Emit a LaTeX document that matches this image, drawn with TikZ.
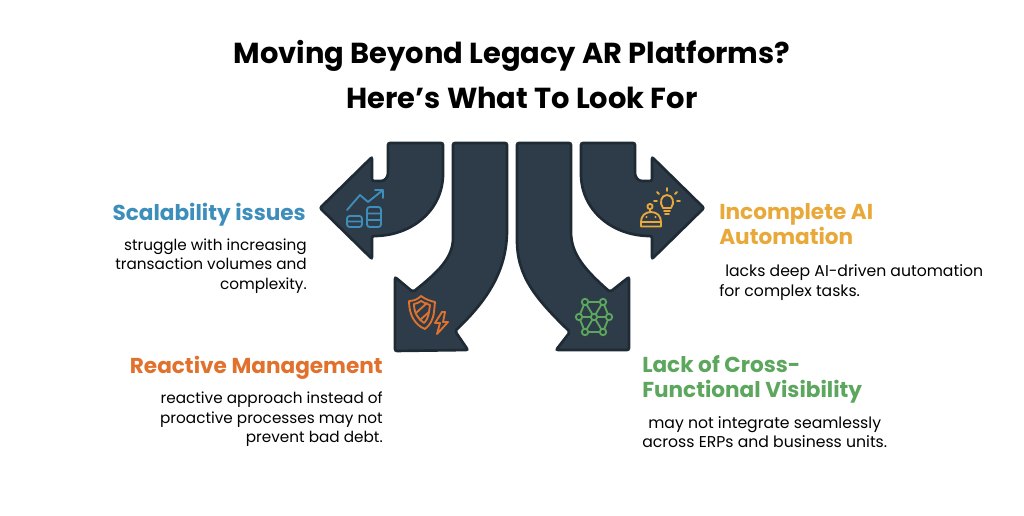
\documentclass[tikz,border=0pt]{standalone}
\usepackage{fontspec}
\setmainfont{Poppins}
\usetikzlibrary{positioning}
\definecolor{slateFill}{HTML}{2D3C48}
\definecolor{slateEdge}{HTML}{1E2B35}
\definecolor{scaleBlue}{HTML}{3E8EBB}
\definecolor{reactOrange}{HTML}{E0722D}
\definecolor{aiYellow}{HTML}{E8A93A}
\definecolor{crossGreen}{HTML}{5CA75D}
\begin{document}
\begin{tikzpicture}[x=0.75pt,y=-0.75pt,
		bigarrow/.style={draw=slateEdge,fill=slateFill,line width=2pt,rounded corners=1.5pt},
		titletext/.style={font=\fontsize{21.7pt}{33.7pt}\selectfont\bfseries,align=center,text=black},
		headleft/.style={anchor=north east,align=right,inner sep=0pt,font=\fontsize{16.2pt}{18.8pt}\selectfont\bfseries},
		headright/.style={anchor=north west,align=left,inner sep=0pt,font=\fontsize{16.2pt}{18.8pt}\selectfont\bfseries},
		bodyleft/.style={anchor=north east,align=right,inner sep=0pt,font=\fontsize{11.45pt}{14.7pt}\selectfont},
		bodyright/.style={anchor=north west,align=left,inner sep=0pt,font=\fontsize{11.75pt}{14.7pt}\selectfont},
		icon/.style={line width=1.4pt,line cap=round,line join=round}]
	\useasboundingbox (0,0) rectangle (1024,516);
	% arrows
	\draw[bigarrow] (388,143) -- (443,143) -- (443,172) .. controls (443,210) and (412,236) .. (372,236) -- (372,259) -- (320,208) -- (372,157) -- (372,181) -- (379,181) .. controls (385,181) and (388,177) .. (388,171) -- cycle;
	\draw[bigarrow] (453,143) -- (507,143) -- (507,228) .. controls (507,268) and (490,298) .. (455,331) -- (468,350) -- (395,351) -- (395,277) -- (413,292) .. controls (438,272) and (453,258) .. (453,236) -- cycle;
	\draw[bigarrow] (517,143) -- (571,143) -- (571,230) .. controls (571,254) and (585,270) .. (610,292) -- (629,277) -- (629,350) -- (556,350) -- (570,332) .. controls (535,298) and (517,276) .. (517,238) -- cycle;
	\draw[bigarrow] (581,143) -- (635,143) -- (635,171) .. controls (635,177) and (638,181) .. (644,181) -- (652,181) -- (652,157) -- (704,208) -- (652,259) -- (652,236) .. controls (612,236) and (581,210) .. (581,172) -- cycle;
	% scalability icon
	\begin{scope}[icon,draw=scaleBlue]
		\draw (347,210) -- (360,195) -- (368,202) -- (383,190) (375,190) -- (383,190) -- (383,198);
		\draw[rounded corners=2pt] (347,216) rectangle (362,227) (347,221.5) -- (362,221.5);
		\draw[rounded corners=2pt] (367,207) rectangle (381,227) (367,213.5) -- (381,213.5) (367,220) -- (381,220);
	\end{scope}
	% reactive icon
	\begin{scope}[icon,draw=reactOrange]
		\draw (409,301) .. controls (414,301) and (418,299) .. (421,296) .. controls (425,299) and (430,301) .. (435,302) -- (434,312) .. controls (433,320) and (430,325) .. (425,329) .. controls (415,325) and (409,315) .. (409,301) -- cycle;
		\draw (414,304) .. controls (417,304) and (419,302) .. (421,301) .. controls (424,303) and (427,304) .. (430,305) -- (429,312) .. controls (428,317) and (427,320) .. (424,323) .. controls (418,319) and (414,313) .. (414,304) -- cycle;
		\draw (416,313) -- (427,303) (420,320) -- (429,312);
		\draw (442,312) -- (435,323) -- (440,323) -- (437,334) -- (448,322) -- (443,322) -- (445,312) -- cycle;
	\end{scope}
	% cross-functional icon
	\begin{scope}[icon,draw=crossGreen]
		\foreach \a/\b in {{585,302}/{603,302},{585,302}/{579,317},{585,302}/{594,317},{603,302}/{594,317},{603,302}/{609,317},{579,317}/{594,317},{594,317}/{609,317},{579,317}/{585,332},{594,317}/{585,332},{594,317}/{603,332},{609,317}/{603,332},{585,332}/{603,332}}
			\draw (\a) -- (\b);
		\foreach \p in {{585,302},{603,302},{579,317},{594,317},{609,317},{585,332},{603,332}}
			\draw[fill=slateFill] (\p) circle (3.2);
	\end{scope}
	% ai icon
	\begin{scope}[icon,draw=aiYellow]
		\draw (641,226.5) -- (641,222) .. controls (641,216) and (645,212) .. (651,212) .. controls (657,212) and (661,216) .. (661,222) -- (661,226.5) -- cycle (641,222) -- (661,222);
		\draw (650,209.5) -- (650,212) (650,206.5) circle (2.6);
		\fill[aiYellow] (646.5,217) circle (1.2) (655.5,217) circle (1.2);
		\draw (663,208) .. controls (659,203) and (661,195) .. (667,195) .. controls (673,195) and (675,203) .. (671,208) -- cycle;
		\draw (664,211) -- (670,211) (665,214) -- (669,214);
		\draw (667,188) -- (667,191) (657,192) -- (659,194) (677,192) -- (675,194) (654,201) -- (657,201) (677,201) -- (680,201);
	\end{scope}
	% text
	\node[titletext] (title) at (512,74.5) {Moving Beyond Legacy AR Platforms?\\\hspace*{15pt}Here’s What To Look For};
	\node[headleft,text=scaleBlue] (scalehead) at (306,203) {Scalability issues};
	\node[bodyleft] (scalebody) at (307,238.5) {struggle with increasing\\transaction volumes and\\complexity.};
	\node[headleft,text=reactOrange] (reacthead) at (383,355.5) {Reactive Management};
	\node[bodyleft] (reactbody) at (383,391.5) {reactive approach instead of\\proactive processes may not\\prevent bad debt.};
	\node[headright,text=aiYellow] (aihead) at (719,203) {Incomplete AI\\Automation};
	\node[bodyright] (aibody) at (719,264.5) {\hspace*{4.5pt}lacks deep AI-driven automation\\for complex tasks.};
	\node[headright,text=crossGreen] (crosshead) at (642,355.5) {Lack of Cross-\\Functional Visibility};
	\node[bodyright] (crossbody) at (642,416) {\hspace*{4.5pt}may not integrate seamlessly\\across ERPs and business units.};
\end{tikzpicture}
\end{document}
